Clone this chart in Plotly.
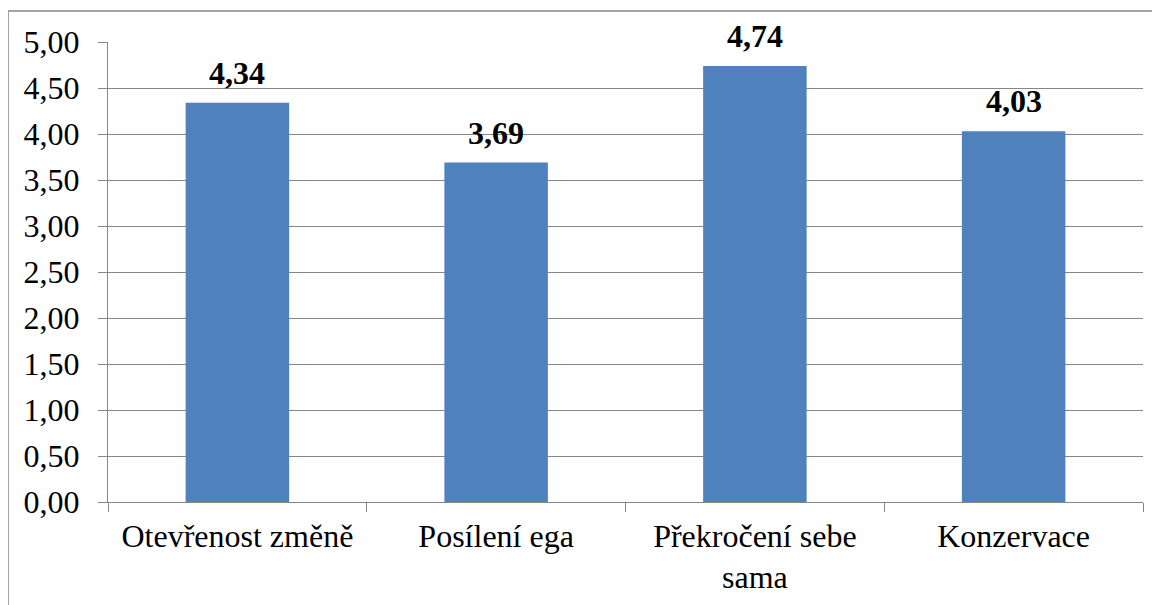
import plotly.graph_objects as go

categories = ["Otevřenost změně", "Posílení ega", "Překročení sebe<br>sama", "Konzervace"]
values = [4.34, 3.69, 4.74, 4.03]
y_ticks = [0, 0.5, 1.0, 1.5, 2.0, 2.5, 3.0, 3.5, 4.0, 4.5, 5.0]

FONT = "'Liberation Serif', 'Times New Roman', Times, serif"
GRID = "#868686"
FS = 32

fig = go.Figure()
fig.add_trace(go.Bar(
    x=categories,
    y=values,
    marker=dict(color="#4F81BD", line=dict(width=0)),
    cliponaxis=False,
))

for c, v in zip(categories, values):
    fig.add_annotation(
        x=c, y=v, xref="x", yref="y",
        text="<b>" + f"{v:.2f}".replace(".", ",") + "</b>",
        showarrow=False, yanchor="bottom", yshift=10,
        font=dict(family=FONT, size=FS, color="black"),
    )

fig.update_layout(
    width=1160, height=605,
    margin=dict(l=100, r=25, t=34, b=111),
    paper_bgcolor="white", plot_bgcolor="white",
    separators=", ",
    bargap=0.6,
    showlegend=False,
    font=dict(family=FONT, size=FS, color="black"),
    xaxis=dict(
        type="category",
        automargin=False,
        tickson="boundaries",
        ticks="outside", ticklen=9, tickcolor=GRID, tickwidth=1.3,
        showline=True, linecolor=GRID, linewidth=1.3,
        showgrid=False,
        ticklabelstandoff=5,
        tickfont=dict(family=FONT, size=FS, color="black"),
    ),
    yaxis=dict(
        range=[0, 5],
        automargin=False,
        tickvals=y_ticks,
        tickformat=".2f",
        ticks="outside", ticklen=9, tickcolor=GRID, tickwidth=1.3,
        showline=True, linecolor=GRID, linewidth=1.3,
        showgrid=True, gridcolor=GRID, gridwidth=1.3,
        zeroline=False,
        ticklabelstandoff=12,
        tickfont=dict(family=FONT, size=FS, color="black"),
    ),
    shapes=[dict(
        type="rect", xref="paper", yref="paper",
        x0=-0.0966, x1=1.2, y0=-0.5, y1=1.0674,
        line=dict(color="#888888", width=1.5),
        fillcolor="rgba(0,0,0,0)", layer="below",
    )],
)

fig.write_html("out.html")
